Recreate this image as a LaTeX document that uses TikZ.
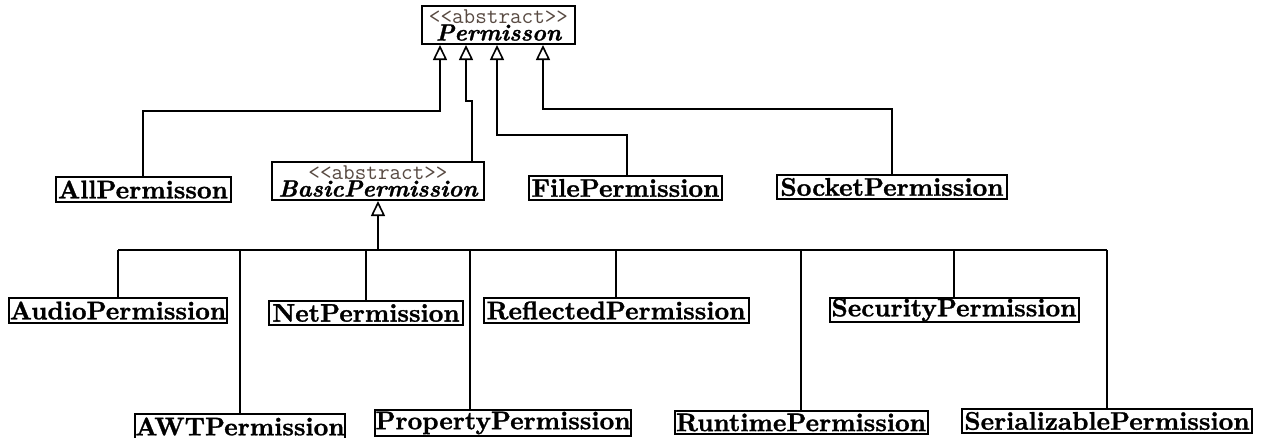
\documentclass[tikz,border=0pt]{standalone}
\usepackage{fontspec}
\newfontfamily\heavyfont{lmroman10-bold}[Extension=.otf,FakeBold=1.2]
\newfontfamily\heavyitfont{lmroman10-bolditalic}[Extension=.otf,FakeBold=1.2]
\usetikzlibrary{arrows.meta}
\definecolor{stereo}{RGB}{88,74,66}
\begin{document}
\begin{tikzpicture}[x=1pt,y=-1pt,
  cls/.style={draw, line width=2pt, inner sep=0pt, font=\fontsize{25.5}{25.5}\selectfont\heavyfont, text=black},
  abs/.style={draw, line width=2pt, inner sep=0pt, align=center, font=\fontsize{23.5}{17.5}\selectfont},
  inh/.style={line width=2pt, -{Triangle[open,length=15pt,width=14pt,line width=1.6pt]}},
  link/.style={line width=2pt}]
\useasboundingbox (0,0) rectangle (1262,437);
\fill[white] (0,0) rectangle (1262,437);

% abstract classes
\node[abs, minimum width=153pt, minimum height=38pt] (perm) at (498.5,25)
  {{\ttfamily\fontsize{22.5}{22.5}\selectfont\color{stereo}<{}<abstract>{}>}\\{\heavyitfont Permisson}};
\node[abs, minimum width=212pt, minimum height=38pt] (basic) at (378,181)
  {{\ttfamily\fontsize{22.5}{22.5}\selectfont\color{stereo}<{}<abstract>{}>}\\{\heavyitfont BasicPermission}};

% first level
\node[cls, minimum width=175pt, minimum height=25pt] (all) at (143,189.5) {AllPermisson};
\node[cls, minimum width=193pt, minimum height=24pt] (file) at (625.5,188) {FilePermission};
\node[cls, minimum width=230pt, minimum height=24pt] (socket) at (892,187) {SocketPermission};

% second level
\node[cls, minimum width=218pt, minimum height=25pt] (audio) at (118,310.5) {AudioPermission};
\node[cls, minimum width=206pt, minimum height=25pt] (awt) at (240,426.5) {AWTPermission};
\node[cls, minimum width=194pt, minimum height=24pt] (net) at (366,313) {NetPermission};
\node[cls, minimum width=256pt, minimum height=26pt] (prop) at (503,423) {PropertyPermission};
\node[cls, minimum width=265pt, minimum height=25pt] (refl) at (616,310.5) {ReflectedPermission};
\node[cls, minimum width=253pt, minimum height=23pt] (runt) at (801,422.5) {RuntimePermission};
\node[cls, minimum width=249pt, minimum height=24pt] (secu) at (954,310) {SecurityPermission};
\node[cls, minimum width=290pt, minimum height=24pt] (seri) at (1107,421) {SerializablePermission};

% helper coordinates
\coordinate (jA) at (0,111);
\coordinate (jB) at (0,101);
\coordinate (jC) at (0,135);
\coordinate (jD) at (0,109);
\coordinate (bus) at (378,250);
\coordinate (p1) at ([xshift=-58.5pt]perm.south);
\coordinate (p2) at ([xshift=-32.5pt]perm.south);
\coordinate (p3) at ([xshift=-1.5pt]perm.south);
\coordinate (p4) at ([xshift=44.5pt]perm.south);
\coordinate (bt) at ([xshift=94pt]basic.north);
\coordinate (ft) at ([xshift=1.5pt]file.north);
\coordinate (pt) at ([xshift=-33pt]prop.north);

% inheritance from Permisson
\draw[inh] (all.north) -- (all.north |- jA) -| (p1);
\draw[inh] (bt) -- (bt |- jB) -| (p2);
\draw[inh] (ft) -- (ft |- jC) -| (p3);
\draw[inh] (socket.north) -- (socket.north |- jD) -| (p4);

% inheritance from BasicPermission
\draw[link] (audio.north |- bus) -- (seri.north |- bus);
\draw[inh] (bus) -- (basic.south);
\draw[link] (audio.north) -- (audio.north |- bus);
\draw[link] (awt.north) -- (awt.north |- bus);
\draw[link] (net.north) -- (net.north |- bus);
\draw[link] (pt) -- (pt |- bus);
\draw[link] (refl.north) -- (refl.north |- bus);
\draw[link] (runt.north) -- (runt.north |- bus);
\draw[link] (secu.north) -- (secu.north |- bus);
\draw[link] (seri.north) -- (seri.north |- bus);
\end{tikzpicture}
\end{document}
